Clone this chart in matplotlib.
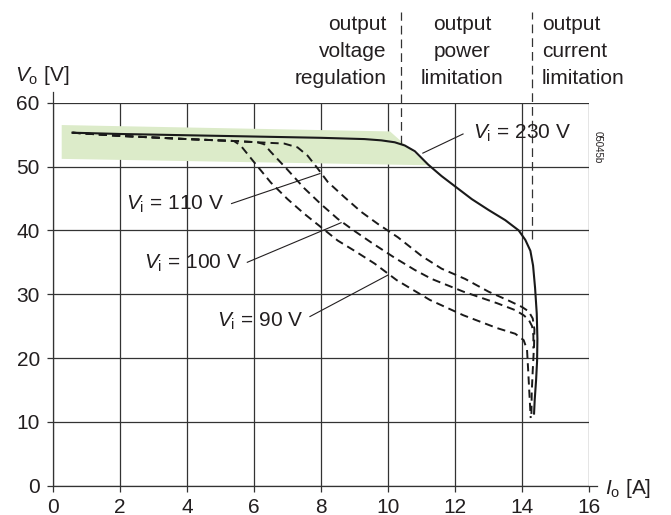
import matplotlib
matplotlib.use("Agg")
import matplotlib.pyplot as plt

plt.rcParams['font.family'] = ['Liberation Sans', 'DejaVu Sans']
plt.rcParams['mathtext.fontset'] = 'custom'
plt.rcParams['mathtext.rm'] = 'Liberation Sans'
plt.rcParams['mathtext.it'] = 'Liberation Sans:italic'

# ---------------- data ----------------
x_ticks = [0, 2, 4, 6, 8, 10, 12, 14, 16]
y_ticks = [0, 10, 20, 30, 40, 50, 60]

vi230_x = [0.58, 2, 4, 6, 8, 9.3, 9.8, 10.2, 10.5, 10.8, 11.2, 11.6, 12.0, 12.5, 13.0,
           13.5, 13.9, 14.1, 14.25, 14.33, 14.39, 14.44, 14.46, 14.45, 14.42, 14.38, 14.36]
vi230_v = [55.3, 55.1, 54.9, 54.7, 54.5, 54.3, 54.1, 53.8, 53.3, 52.4, 50.3, 48.5, 46.9,
           44.9, 43.2, 41.6, 40.0, 38.5, 36.8, 34.5, 31.0, 27.0, 23.0, 19.5, 16.5, 13.5, 11.3]

vi110_x = [0.58, 2, 4, 5.4, 6.1, 6.9, 7.3, 7.6, 7.9, 8.2, 8.7, 9.2, 9.7, 10.3, 11.0, 11.6,
           12.3, 13.0, 13.6, 14.0, 14.2, 14.32, 14.37, 14.36, 14.32, 14.29, 14.28]
vi110_v = [55.3, 54.8, 54.3, 54.0, 53.8, 53.6, 53.0, 51.7, 49.7, 47.6, 45.2, 42.9, 41.0,
           38.9, 36.0, 34.0, 32.4, 30.4, 29.0, 28.0, 27.3, 26.2, 24.5, 22.0, 18.0, 14.5, 11.0]

vi100_x = [0.58, 2, 4, 5.4, 6.1, 6.3, 6.5, 7.0, 7.5, 8.0, 8.5, 9.0, 9.5, 10.2, 10.8, 11.3,
           12.25, 13.25, 13.8, 14.05, 14.2, 14.3, 14.34, 14.34]
vi100_v = [55.3, 54.8, 54.3, 54.0, 53.8, 53.5, 52.3, 49.5, 46.6, 44.1, 41.8, 39.9, 38.1,
           35.7, 33.8, 32.4, 30.4, 28.6, 27.5, 26.7, 26.0, 25.0, 23.5, 21.5]

vi90_x = [0.58, 2, 4, 5.4, 5.6, 6.0, 6.5, 7.0, 7.5, 8.0, 8.5, 9.0, 9.6, 10.26, 11.25,
          12.25, 13.25, 13.8, 14.05, 14.15, 14.18, 14.22, 14.26]
vi90_v = [55.3, 54.8, 54.3, 54.0, 53.3, 50.7, 47.5, 44.9, 42.6, 40.5, 38.4, 36.8, 34.8,
          32.2, 29.1, 26.7, 24.7, 23.8, 22.8, 21.3, 18.5, 14.5, 10.6]

# shaded regulation band
band_x = [0.26, 10.06, 11.2, 0.26]
band_v = [56.5, 55.5, 50.2, 51.2]

# region boundaries
boundary_x = [10.39, 14.3]
boundary_vmin = [53.5, 38.6]

region_texts = ["output\nvoltage\nregulation", "output\npower\nlimitation", "output\ncurrent\nlimitation"]

TXT = '#231f20'
GRID = '#333333'
FS = 15

fig = plt.figure(figsize=(6.71, 5.15), dpi=100)
ax = fig.add_axes([53/671, 1-485.7/515, 536/671, 383/515])
ax.set_xlim(0, 16)
ax.set_ylim(0, 60)
for s in ax.spines.values():
    s.set_visible(False)

ax.set_xticks(x_ticks)
ax.set_yticks(y_ticks)
ax.tick_params(direction='out', length=4, width=0.9, color=GRID, labelsize=FS,
               labelcolor=TXT)
ax.tick_params(axis='x', pad=4.5)
ax.tick_params(axis='y', pad=5.5)
ax.grid(True, color=GRID, lw=0.9)
ax.set_axisbelow(True)

# axis extensions
ax.plot([0, 0], [0, 61.7], color=GRID, lw=0.9, clip_on=False)
ax.plot([0, 16.23], [0, 0], color=GRID, lw=0.9, clip_on=False)

ax.fill(band_x, band_v, color='#dcebc9', lw=0, zorder=1)

dash = (0, (4.2, 2.6))
ax.plot(vi90_x, vi90_v, color='#1a1a1a', lw=1.4, ls=dash, zorder=3)
ax.plot(vi100_x, vi100_v, color='#1a1a1a', lw=1.4, ls=dash, zorder=3)
ax.plot(vi110_x, vi110_v, color='#1a1a1a', lw=1.4, ls=dash, zorder=3)
ax.plot(vi230_x, vi230_v, color='#1a1a1a', lw=1.5, zorder=4)

# region boundary lines
for bx, bmin in zip(boundary_x, boundary_vmin):
    ax.plot([bx, bx], [bmin, 74.2], color=GRID, lw=0.9, ls=(0, (7, 4)), clip_on=False)

# header texts
line_v = [71.4, 67.2, 63.0]
header_pos = [(9.95, 'right'), (12.21, 'center'), (14.6, 'left')]
for txt, (hx, ha) in zip(region_texts, header_pos):
    for i, line in enumerate(txt.split('\n')):
        ax.text(hx, line_v[i], line, ha=ha, va='baseline', fontsize=FS, color=TXT,
                clip_on=False)

# curve labels and leaders
lab = dict(fontsize=FS, color=TXT, va='center')
ax.text(12.55, 55.2, r'$V_\mathrm{i}$ = 230 V', ha='left', **lab)
ax.plot([11.04, 12.24], [52.1, 55.1], color=TXT, lw=0.8)
ax.text(5.1, 44.0, r'$V_\mathrm{i}$ = 110 V', ha='right', **lab)
ax.plot([5.33, 7.97], [44.2, 48.9], color=TXT, lw=0.8)
ax.text(5.63, 34.8, r'$V_\mathrm{i}$ = 100 V', ha='right', **lab)
ax.plot([5.8, 8.6], [35.0, 41.2], color=TXT, lw=0.8)
ax.text(7.47, 25.7, r'$V_\mathrm{i}$ = 90 V', ha='right', **lab)
ax.plot([7.67, 10.0], [26.5, 33.0], color=TXT, lw=0.8)

# axis titles
ax.text(-1.13, 63.4, r'$V_\mathrm{o}$ [V]', ha='left', va='baseline', fontsize=FS,
        color=TXT, clip_on=False)
ax.text(16.48, -0.4, r'$I_\mathrm{o}$ [A]', ha='left', va='center', fontsize=FS,
        color=TXT, clip_on=False)

ax.text(16.27, 53.0, '05045b', rotation=-90, ha='center', va='center', fontsize=7,
        color=TXT, clip_on=False)

fig.savefig('out.png', dpi=100)
